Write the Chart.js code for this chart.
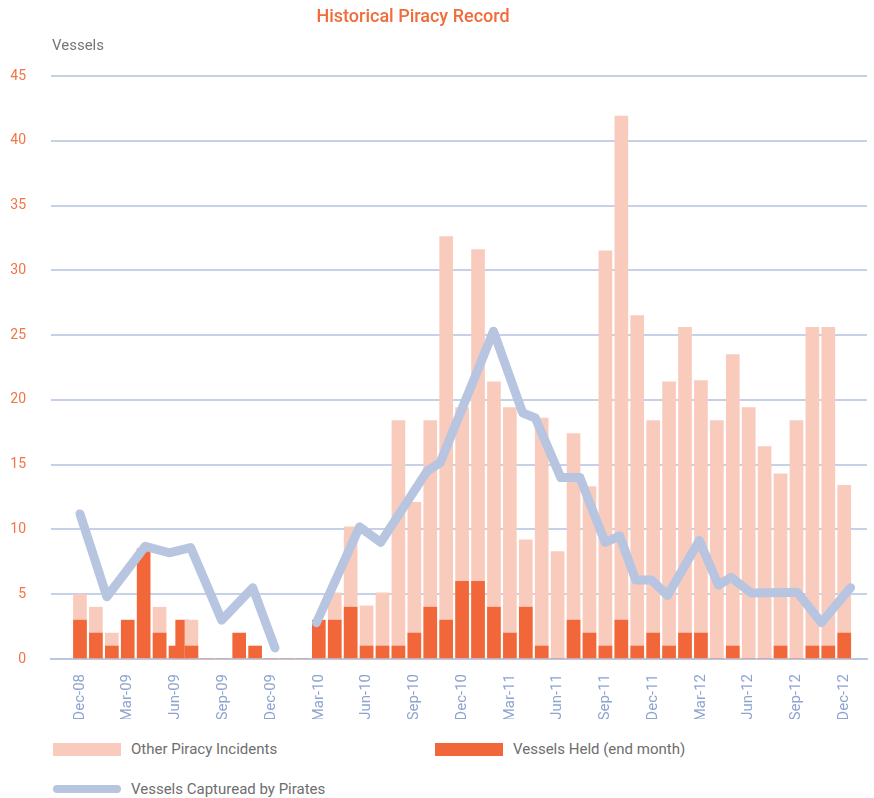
<!DOCTYPE html>
<html>
<head>
<meta charset="utf-8">
<script src="https://cdn.jsdelivr.net/npm/chart.js@4.4.1/dist/chart.umd.min.js"></script>
<style>
    body { margin: 0; background: #fff; font-family: Roboto, "Liberation Sans", sans-serif; }
    #chart-wrap { position: relative; width: 874px; height: 732px; }
    #legend { position: absolute; left: 0; top: 732px; width: 874px; height: 66px; }
    .legend-item { position: absolute; display: flex; align-items: center; font-size: 15px; color: #6e6e6e; white-space: nowrap; }
    .legend-swatch { width: 68px; height: 13px; margin-right: 10px; }
    .legend-swatch.line { height: 8px; border-radius: 4px; }
</style>
</head>
<body>
<div id="chart-wrap"><canvas id="piracy-chart"></canvas></div>
<div id="legend"></div>
<script>
const chartTitle = "Historical Piracy Record";
const yUnit = "Vessels";

const months = [
    "Dec-08", "Jan-09", "Feb-09", "Mar-09", "Apr-09", "May-09", "Jun-09", "Jul-09", "Aug-09", "Sep-09", "Oct-09", "Nov-09",
    "Dec-09", "Jan-10", "Feb-10", "Mar-10", "Apr-10", "May-10", "Jun-10", "Jul-10", "Aug-10", "Sep-10", "Oct-10", "Nov-10",
    "Dec-10", "Jan-11", "Feb-11", "Mar-11", "Apr-11", "May-11", "Jun-11", "Jul-11", "Aug-11", "Sep-11", "Oct-11", "Nov-11",
    "Dec-11", "Jan-12", "Feb-12", "Mar-12", "Apr-12", "May-12", "Jun-12", "Jul-12", "Aug-12", "Sep-12", "Oct-12", "Nov-12",
    "Dec-12"
];

// bar heights (light bar sits behind the dark one)
const otherIncidents = [
    5, 4, 2, 0, 0, 4, 0, 3, 0, 0, 0, 0,
    0, 0, 0, 0, 5.1, 10.2, 4.1, 5.1, 18.4, 12.1, 18.4, 32.6,
    19.4, 31.6, 21.4, 19.4, 9.2, 18.6, 8.3, 17.4, 13.3, 31.5, 41.9, 26.5,
    18.4, 21.4, 25.6, 21.5, 18.4, 23.5, 19.4, 16.4, 14.3, 18.4, 25.6, 25.6,
    13.4
];
const vesselsHeld = [
    3, 2, 1, 3, 8.5, 2, 1, 1, 0, 0, 2, 1,
    0, 0, 0, 3, 3, 4, 1, 1, 1, 2, 4, 3,
    6, 6, 4, 2, 4, 1, 0, 3, 2, 1, 3, 1,
    2, 1, 2, 2, 0, 1, 0, 0, 1, 0, 1, 1,
    2
];
// one extra mid-June 2009 reading sits between Jun and Jul
const heldExtraX = [6.42];
const heldExtraY = [3];

// captured vessels line, x in months from Dec-08 (null = gap in the record)
const capturedX = [0, 1.69, 4.1, 5.6, 6.95, 8.9, 10.85, 12.25, 13.5,
    14.85, 17.56, 18.89, 21.8, 22.62, 25.97, 27.8, 28.6, 30.2, 31.4, 32.98, 33.9,
    34.9, 35.9, 36.9, 38.9, 40.1, 40.9, 42.15, 45.05, 46.57, 48.4];
const capturedY = [11.2, 4.8, 8.7, 8.2, 8.6, 3.0, 5.5, 0.85, null,
    2.8, 10.2, 9.0, 14.5, 15.15, 25.3, 19.0, 18.6, 14.0, 14.0, 9.0, 9.5,
    6.1, 6.1, 4.9, 9.15, 5.7, 6.3, 5.1, 5.15, 2.8, 5.5];

const tickMonths = [0, 3, 6, 9, 12, 15, 18, 21, 24, 27, 30, 33, 36, 39, 42, 45, 48];

const colors = {
    other: "#f9cbbc",
    held: "#f26739",
    captured: "#b7c5e0",
    grid: "#c6d1e7",
    title: "#f26b3a",
    yTick: "#f37445",
    xTick: "#8ea3cf"
};

Chart.defaults.font.family = "Roboto, 'Liberation Sans', sans-serif";

function toPoints(xs, ys) {
    return xs.map((x, i) => ({ x: x, y: ys[i] }));
}

const headerText = {
    id: "headerText",
    afterDraw(chart) {
        const ctx = chart.ctx;
        ctx.save();
        ctx.font = "500 18px Roboto";
        ctx.fillStyle = colors.title;
        ctx.textAlign = "center";
        ctx.textBaseline = "middle";
        ctx.fillText(chartTitle, 413, 17);
        ctx.font = "15px Roboto";
        ctx.fillStyle = "#767676";
        ctx.textAlign = "left";
        ctx.fillText(yUnit, chart.chartArea.left + 1, 46);
        ctx.restore();
    }
};

const chart = new Chart(document.getElementById("piracy-chart"), {
    type: "bar",
    data: {
        datasets: [
            {
                type: "line",
                label: "Vessels Capturead by Pirates",
                data: toPoints(capturedX, capturedY),
                borderColor: colors.captured,
                backgroundColor: colors.captured,
                borderWidth: 9,
                borderCapStyle: "round",
                borderJoinStyle: "round",
                pointRadius: 0,
                tension: 0,
                spanGaps: false,
                order: 0
            },
            {
                label: "Vessels Held (end month)",
                data: vesselsHeld.map((v, i) => ({ x: i, y: v })),
                backgroundColor: colors.held,
                barThickness: 13,
                grouped: false,
                order: 1
            },
            {
                label: "Other Piracy Incidents",
                data: otherIncidents.map((v, i) => ({ x: i, y: v })),
                backgroundColor: colors.other,
                barThickness: 13,
                grouped: false,
                order: 2
            },
            {
                label: "Vessels Held (mid month)",
                data: toPoints(heldExtraX, heldExtraY),
                backgroundColor: colors.held,
                barThickness: 13,
                grouped: false,
                order: 3
            }
        ]
    },
    options: {
        responsive: true,
        maintainAspectRatio: false,
        animation: false,
        layout: {
            padding: { top: 76, left: 10, right: 7, bottom: 13 }
        },
        scales: {
            x: {
                type: "linear",
                offset: false,
                min: -1.82,
                max: 49.43,
                afterBuildTicks: function(scale) {
                    scale.ticks = tickMonths.map(v => ({ value: v }));
                },
                afterFit: function(scale) {
                    // keep rotated labels from eating into the plot width
                    scale.paddingLeft = 0;
                    scale.paddingRight = 0;
                    scale.height = 60;
                },
                ticks: {
                    autoSkip: false,
                    minRotation: 90,
                    maxRotation: 90,
                    padding: 15,
                    color: colors.xTick,
                    font: { size: 15 },
                    callback: function(value) {
                        return months[value];
                    }
                },
                grid: { display: false, drawTicks: false, offset: false },
                border: { display: true, color: "#b9c7e1", width: 2 }
            },
            y: {
                min: 0,
                max: 45,
                afterFit: function(scale) {
                    scale.width = 41;
                },
                ticks: {
                    stepSize: 5,
                    padding: 25,
                    color: colors.yTick,
                    font: { size: 14 }
                },
                grid: { color: colors.grid, lineWidth: 2, drawTicks: false },
                border: { display: false }
            }
        },
        plugins: {
            legend: { display: false },
            tooltip: { enabled: false }
        }
    },
    plugins: [headerText]
});

// legend below the canvas, built from the datasets
const legendSpots = {
    "Other Piracy Incidents": { left: 53, top: 7, kind: "box" },
    "Vessels Held (end month)": { left: 435, top: 7, kind: "box" },
    "Vessels Capturead by Pirates": { left: 53, top: 47, kind: "line" }
};
const legendDiv = document.getElementById("legend");
chart.data.datasets.forEach(ds => {
    const spot = legendSpots[ds.label];
    if (!spot) return;
    const item = document.createElement("div");
    item.className = "legend-item";
    item.style.left = spot.left + "px";
    item.style.top = spot.top + "px";
    item.style.height = "20px";
    const sw = document.createElement("span");
    sw.className = "legend-swatch" + (spot.kind == "line" ? " line" : "");
    sw.style.background = spot.kind == "line" ? ds.borderColor : ds.backgroundColor;
    const txt = document.createElement("span");
    txt.textContent = ds.label;
    item.appendChild(sw);
    item.appendChild(txt);
    legendDiv.appendChild(item);
});
</script>
</body>
</html>
